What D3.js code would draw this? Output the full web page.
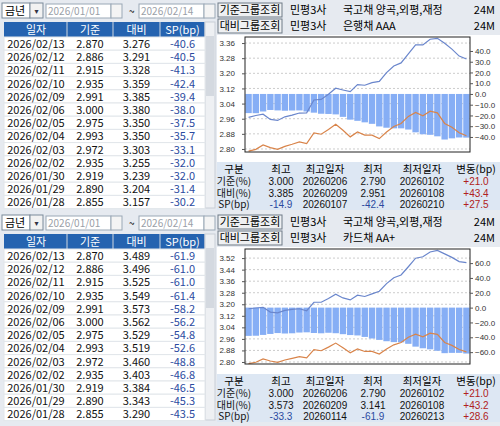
<!DOCTYPE html>
<html><head><meta charset="utf-8">
<script src="https://cdn.jsdelivr.net/npm/d3@7"></script>
<style>body{margin:0;background:#e6eaf0;font-family:"Noto Sans CJK KR","DejaVu Sans",sans-serif;}</style>
</head><body><div id="chart"></div>
<script>
// shared 기준 (국고채) series, 2026/01/02 .. 2026/02/13
const days = ["0102","0105","0106","0107","0108","0109","0112","0113","0114","0115","0116","0119","0120","0121","0122","0123","0126","0127",
  "0128","0129","0130","0202","0203","0204","0205","0206","0209","0210","0211","0212","0213"];
const base = [2.789,2.798,2.821,2.807,2.798,2.814,2.825,2.837,2.828,2.885,2.878,2.903,2.931,2.899,2.864,2.890,2.873,2.873,
  2.855,2.890,2.919,2.935,2.972,2.993,2.975,3.000,2.991,2.935,2.915,2.886,2.870];
// 은행채 AAA
const cmp1 = [2.967,2.977,2.984,2.956,2.951,2.970,2.979,2.990,2.991,3.059,3.062,3.089,3.121,3.112,3.103,3.140,3.137,3.151,
  3.157,3.204,3.239,3.255,3.303,3.350,3.350,3.380,3.385,3.359,3.328,3.291,3.276];
const sp1 = [-17.8,-17.9,-16.3,-14.9,-15.3,-15.6,-15.4,-15.3,-16.3,-17.4,-18.4,-18.6,-19.0,-21.3,-23.9,-25.0,-26.4,-27.8,
  -30.2,-31.4,-32.0,-32.0,-33.1,-35.7,-37.5,-38.0,-39.4,-42.4,-41.3,-40.5,-40.6];
// 카드채 AA+
const cmp2 = [3.169,3.174,3.179,3.146,3.141,3.158,3.165,3.169,3.155,3.214,3.214,3.240,3.270,3.244,3.230,3.263,3.254,3.272,
  3.290,3.343,3.384,3.403,3.460,3.519,3.529,3.562,3.573,3.549,3.525,3.496,3.489];
const sp2 = [-38.1,-37.9,-36.8,-35.5,-34.3,-34.9,-34.6,-33.6,-33.3,-34.2,-34.6,-33.9,-34.5,-35.8,-37.0,-37.5,-39.5,-41.6,
  -43.5,-45.3,-46.5,-46.8,-48.8,-52.6,-54.8,-56.2,-58.2,-61.4,-61.0,-61.0,-61.9];

const leftTicks1 = [2.80,2.88,2.96,3.04,3.12,3.20,3.28,3.36];
const rightTicks1 = [40,30,20,10,0,-10,-20,-30,-40];
const leftTicks2 = [2.80,2.88,2.96,3.04,3.12,3.20,3.28,3.36,3.44,3.52];
const rightTicks2 = [60,40,20,0,-20,-40,-60];

const stats1 = [["기준(%)","3.000","20260206","2.790","20260102","+21.0"],
  ["대비(%)","3.385","20260209","2.951","20260108","+43.4"],
  ["SP(bp)","-14.9","20260107","-42.4","20260210","+27.5"]];
const stats2 = [["기준(%)","3.000","20260206","2.790","20260102","+21.0"],
  ["대비(%)","3.573","20260209","3.141","20260108","+43.2"],
  ["SP(bp)","-33.3","20260114","-61.9","20260213","+28.6"]];

const svg = d3.select("#chart").append("svg").attr("width",500).attr("height",426)
  .style("font-family",'"Noto Sans CJK KR","DejaVu Sans",sans-serif');
svg.append("rect").attr("width",500).attr("height",426).attr("fill","#e6eaf0");

function drawPanel(y0, cmp, sp, cmpName, lTicks, rTicks, lDom, rDom, stats) {
  const g = svg.append("g").attr("transform",`translate(0,${y0})`);
  // --- left: date controls + table
  g.append("rect").attr("x",2).attr("y",3).attr("width",28).attr("height",15).attr("fill","#fff").attr("stroke","#7a8a9a");
  g.append("text").attr("x",5).attr("y",15).attr("font-size",11).text("금년");
  g.append("rect").attr("x",30).attr("y",3).attr("width",13).attr("height",15).attr("fill","#f2f2f2").attr("stroke","#7a8a9a");
  g.append("text").attr("x",36.5).attr("y",14).attr("font-size",8).attr("text-anchor","middle").attr("fill","#334").text("▾");
  [[46,"2026/01/01"],[139,"2026/02/14"]].forEach(([x,t]) => {
    g.append("rect").attr("x",x).attr("y",4).attr("width",65).attr("height",14).attr("fill","#fff").attr("stroke","#9aa8b6");
    g.append("text").attr("x",x+2).attr("y",15).attr("font-size",10).attr("fill","#9aa0a8").text(t);
    g.append("rect").attr("x",x+65).attr("y",4).attr("width",11).attr("height",14).attr("fill","#f4f4f4").attr("stroke","#9aa8b6");
  });
  g.append("text").attr("x",129).attr("y",15).attr("font-size",10).text("~");

  const cols = [[5,67,"일자"],[67,113,"기준"],[113,160,"대비"],[160,205,"SP(bp)"]];
  g.append("rect").attr("x",4).attr("y",22).attr("width",201).attr("height",15).attr("fill","#2563b0");
  cols.forEach(c => {
    g.append("text").attr("x",(c[0]+c[1])/2).attr("y",34).attr("text-anchor","middle").attr("font-size",11)
      .attr("fill","#fff").text(c[2]);
    g.append("line").attr("x1",c[1]).attr("x2",c[1]).attr("y1",22).attr("y2",207).attr("stroke","#d0d8e0");
  });
  g.append("rect").attr("x",205).attr("y",22).attr("width",10).attr("height",186).attr("fill","#eef0f3").attr("stroke","#c8ced6");
  g.append("rect").attr("x",206).attr("y",36).attr("width",8).attr("height",60).attr("fill","#d4d9e0");
  const n = days.length;
  for (let i = 0; i < 13; i++) {
    const k = n - 1 - i, ry = 37 + i*13.2;
    g.append("rect").attr("x",4).attr("y",ry).attr("width",201).attr("height",13.2).attr("fill","#fff")
      .attr("stroke","#e2e6ea");
    const vals = ["2026/" + days[k].slice(0,2) + "/" + days[k].slice(2), base[k].toFixed(3), cmp[k].toFixed(3), sp[k].toFixed(1)];
    vals.forEach((v,j) => g.append("text").attr("x",(cols[j][0]+cols[j][1])/2).attr("y",ry+11)
      .attr("text-anchor","middle").attr("font-size",11).attr("fill", j==3 ? "#2b4aa0" : "#111").text(v));
  }

  // --- right: header
  [["기준그룹조회",3],["대비그룹조회",19]].forEach(([t,y]) => {
    g.append("rect").attr("x",218).attr("y",y).attr("width",64).attr("height",14).attr("fill","#eef0f2").attr("stroke","#6e7a86");
    g.append("text").attr("x",250).attr("y",y+11).attr("text-anchor","middle").attr("font-size",11).text(t);
  });
  [[14,"국고채 양곡,외평,재정"],[30,cmpName]].forEach(([y,t]) => {
    g.append("text").attr("x",290).attr("y",y).attr("font-size",11).text("민평3사");
    g.append("text").attr("x",343).attr("y",y).attr("font-size",11).text(t);
    g.append("text").attr("x",495).attr("y",y).attr("text-anchor","end").attr("font-size",11).text("24M");
  });

  // --- chart
  const px0 = 245, px1 = 470, py0 = 37, py1 = 152;
  g.append("rect").attr("x",217).attr("y",35).attr("width",283).attr("height",127).attr("fill","#fff");
  const x = d3.scaleBand().domain(days).range([px0,px1]).paddingInner(0.12).paddingOuter(0.05);
  const yl = d3.scaleLinear().domain(lDom).range([py1,py0]);
  const yr = d3.scaleLinear().domain(rDom).range([py1,py0]);
  g.append("g").selectAll("line").data(lTicks).join("line").attr("x1",px0).attr("x2",px1)
    .attr("y1",d=>yl(d)).attr("y2",d=>yl(d)).attr("stroke","#ccc").attr("stroke-dasharray","2,2");
  g.append("g").selectAll("rect").data(sp).join("rect")
    .attr("x",(d,i)=>x(days[i])).attr("width",x.bandwidth())
    .attr("y",yr(0)).attr("height",d=>yr(d)-yr(0)).attr("fill","#86aef5");
  const line = s => d3.line().x((d,i)=>x(days[i])+x.bandwidth()/2).y(d=>yl(d))(s);
  g.append("path").attr("d",line(base)).attr("fill","none").attr("stroke","#d9844a").attr("stroke-width",1.2);
  g.append("path").attr("d",line(cmp)).attr("fill","none").attr("stroke","#6a86cc").attr("stroke-width",1.2);
  g.append("rect").attr("x",px0).attr("y",py0).attr("width",px1-px0).attr("height",py1-py0)
    .attr("fill","none").attr("stroke","#222");
  const la = g.append("g").attr("transform",`translate(${px0},0)`)
    .call(d3.axisLeft(yl).tickValues(lTicks).tickFormat(d3.format(".2f")).tickSize(3));
  const ra = g.append("g").attr("transform",`translate(${px1},0)`)
    .call(d3.axisRight(yr).tickValues(rTicks).tickFormat(d3.format(".1f")).tickSize(3));
  [la,ra].forEach(a => { a.select(".domain").remove(); a.selectAll("text").attr("font-size",8).attr("fill","#333")
    .style("font-family","Liberation Sans"); a.selectAll("line").attr("stroke","#555"); });
  la.selectAll("text").attr("x",-10);
  ra.selectAll("text").attr("x",5);

  // --- stats
  g.append("rect").attr("x",217).attr("y",162).attr("width",283).attr("height",48).attr("fill","#dde7f3");
  const sx = [234,281,325,373,422,476];
  ["구분","최고","최고일자","최저","최저일자","변동(bp)"].forEach((t,j) =>
    g.append("text").attr("x",sx[j]).attr("y",173).attr("text-anchor","middle").attr("font-size",10.5).text(t));
  stats.forEach((r,i) => r.forEach((t,j) => g.append("text").attr("x",sx[j]).attr("y",185+i*11.5)
    .attr("text-anchor","middle").attr("font-size",10).style("font-family", j==0 ? null : "Liberation Sans")
    .attr("fill", j==5 ? "#b02020" : (i==2 && (j==1||j==3)) ? "#2b4aa0" : "#111").text(t)));
}

drawPanel(0, cmp1, sp1, "은행채 AAA", leftTicks1, rightTicks1, [2.784,3.392], [-54,53], stats1);
drawPanel(212, cmp2, sp2, "카드채 AA+", leftTicks2, rightTicks2, [2.786,3.583], [-76,79], stats2);
</script></body></html>
